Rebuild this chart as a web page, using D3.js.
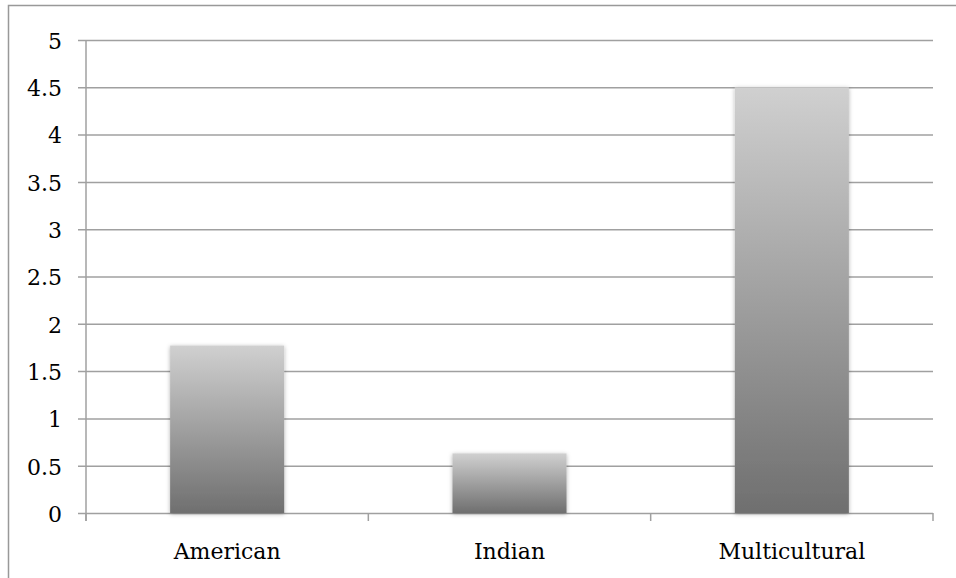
<!DOCTYPE html>
<html><head><meta charset="utf-8">
<script src="https://cdn.jsdelivr.net/npm/d3@7"></script>
<style>body{margin:0;background:#fff}svg{display:block}</style>
</head><body>
<script>
const categories = ["American", "Indian", "Multicultural"];
const values = [1.77, 0.63, 4.5];
const yTicks = [0, 0.5, 1, 1.5, 2, 2.5, 3, 3.5, 4, 4.5, 5];

(function () {
const W = 956, H = 578;
const svg = d3.select("body").append("svg").attr("width", W).attr("height", H);

// outer frame (top and left visible)
svg.append("rect").attr("x", 8.5).attr("y", 5.5).attr("width", 1000).attr("height", 1000)
  .attr("fill", "none").attr("stroke", "#999").attr("stroke-width", 1.5);

const pL = 86, pR = 933, pT = 40, pB = 513;
const x = d3.scaleBand().domain(categories).range([pL, pR]).paddingInner(0.596).paddingOuter(0.298);
const y = d3.scaleLinear().domain([0, 5]).range([pB, pT]);

const defs = svg.append("defs");
const grad = defs.append("linearGradient").attr("id", "barGrad").attr("x1", 0).attr("y1", 0).attr("x2", 0).attr("y2", 1);
grad.append("stop").attr("offset", "0%").attr("stop-color", "#d0d0d0");
grad.append("stop").attr("offset", "100%").attr("stop-color", "#6f6f6f");
const f = defs.append("filter").attr("id", "shadow").attr("x", "-20%").attr("y", "-20%").attr("width", "140%").attr("height", "140%");
f.append("feDropShadow").attr("dx", 0).attr("dy", 1).attr("stdDeviation", 2).attr("flood-color", "#000").attr("flood-opacity", 0.3);

// gridlines + y labels
const yAxis = d3.axisLeft(y).tickValues(yTicks).tickSize(8).tickPadding(16).tickFormat(d3.format("~g"));
const gy = svg.append("g").attr("transform", `translate(${pL},0)`).call(yAxis);
gy.select(".domain").remove();
gy.selectAll(".tick line").attr("stroke", "#a0a0a0").attr("stroke-width", 1.5)
  .attr("x1", -8).attr("x2", pR - pL);
gy.selectAll(".tick text").attr("font-family", "DejaVu Serif").attr("font-size", 22).attr("fill", "#000").attr("dy", "0.38em");

// y axis line
svg.append("line").attr("x1", pL).attr("x2", pL).attr("y1", pT).attr("y2", pB + 8)
  .attr("stroke", "#a0a0a0").attr("stroke-width", 1.5);

// x axis labels
const xAxis = d3.axisBottom(x).tickSize(0).tickPadding(30);
const gx = svg.append("g").attr("transform", `translate(0,${pB})`).call(xAxis);
gx.select(".domain").remove();
gx.selectAll(".tick text").attr("font-family", "DejaVu Serif").attr("font-size", 22).attr("fill", "#000");

// x ticks at category boundaries
const step = x.step();
const bounds = [pL, ...categories.map(c => x(c) + x.bandwidth() / 2 + step / 2)];
svg.selectAll(".xt").data(bounds).enter().append("line")
  .attr("x1", d => d).attr("x2", d => d).attr("y1", pB).attr("y2", pB + 8)
  .attr("stroke", "#a0a0a0").attr("stroke-width", 1.5);

// bars
svg.selectAll(".bar").data(values).enter().append("rect")
  .attr("x", (d, i) => x(categories[i])).attr("width", x.bandwidth())
  .attr("y", d => y(d)).attr("height", d => pB - y(d))
  .attr("fill", "url(#barGrad)").attr("filter", "url(#shadow)");
})();
</script>
</body></html>
